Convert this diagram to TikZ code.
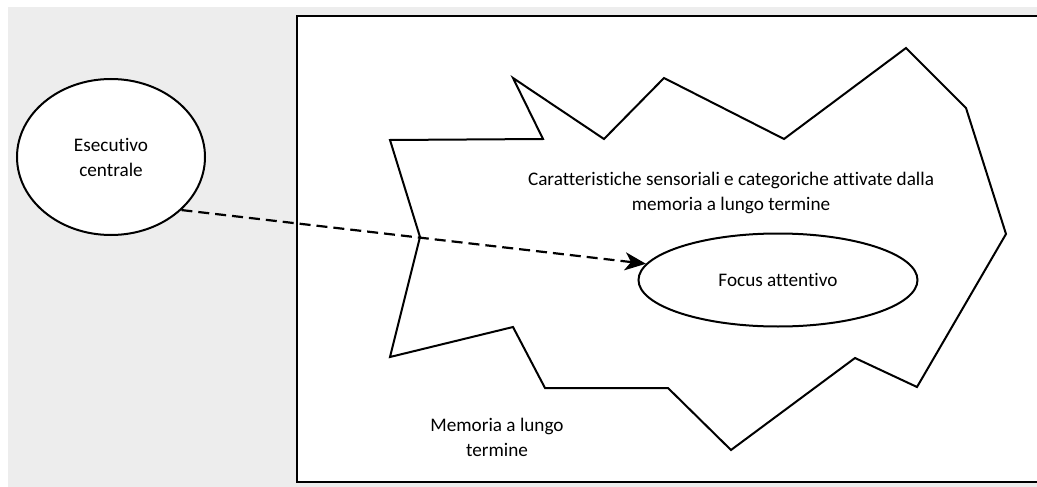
\documentclass[tikz,border=0pt]{standalone}
\usepackage{fontspec}
\setmainfont{Carlito}[Ligatures=NoCommon]
\usetikzlibrary{shapes.geometric}
\usetikzlibrary{arrows.meta}
\definecolor{bggray}{HTML}{EDEDED}
\tikzset{>={Stealth[length=21pt, width=18pt, inset=6pt]}}
\tikzset{oval/.style={ellipse, draw, line width=2pt, fill=white, inner sep=0pt, align=center}}
\tikzset{txt/.style={align=center}}

\begin{document}
\begin{tikzpicture}[x=1pt, y=-1pt, font=\fontsize{19.2}{25}\selectfont]
      \useasboundingbox (0, 0) rectangle (1037, 487);
      \fill[bggray] (8, 7) rectangle (1037, 487);
      \draw[line width=2.6pt, fill=white] (297, 16) rectangle (1045, 482);
      % activated region
      \draw[line width=2pt, line join=miter]
        (390, 140) -- (543, 139) -- (513, 78) -- (604, 139) -- (664, 78)
        -- (784, 139) -- (906, 48) -- (966, 108) -- (1006, 234) -- (917, 387)
        -- (855, 358) -- (731, 450) -- (668, 388) -- (545, 388) -- (513, 327)
        -- (390, 357) -- (420, 237) -- cycle;
      \node[oval, minimum width=188pt, minimum height=156pt] (exec) at (111, 157) {Esecutivo\\centrale};
      \node[oval, minimum width=279pt, minimum height=93pt] (focus) at (778, 280) {Focus attentivo};
      \node[txt] (activated) at (731, 193) {Caratteristiche sensoriali e categoriche attivate dalla\\memoria a lungo termine};
      \node[txt] (ltm) at (497, 437) {Memoria a lungo\\termine};
      \draw[->, line width=2.2pt, dash pattern=on 11pt off 6pt] (exec.-37.5) -- (focus.173);
    \end{tikzpicture}
\end{document}
